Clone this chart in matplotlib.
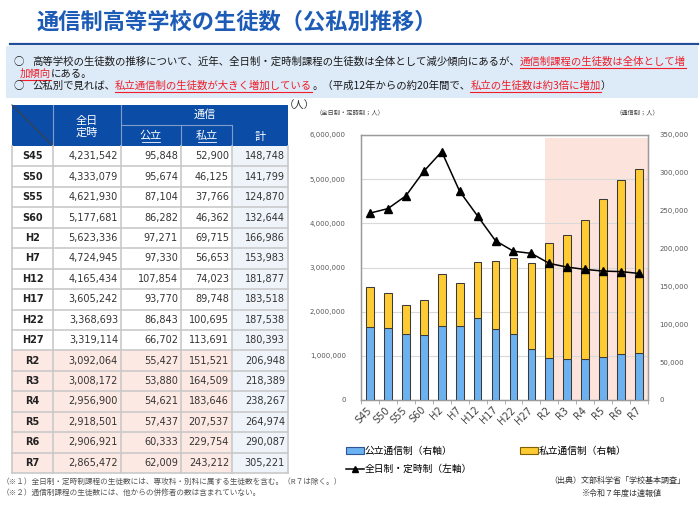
import numpy as np
import matplotlib
matplotlib.use("Agg")
import matplotlib.pyplot as plt
from matplotlib.patches import Rectangle, Patch
from matplotlib.lines import Line2D
from matplotlib.ticker import FuncFormatter

JP = ['Noto Sans CJK JP', 'DejaVu Sans']
NUM = ['DejaVu Sans', 'Noto Sans CJK JP']

years = ['S45', 'S50', 'S55', 'S60', 'H2', 'H7', 'H12', 'H17', 'H22', 'H27',
         'R2', 'R3', 'R4', 'R5', 'R6', 'R7']
fulltime = [4231542, 4333079, 4621930, 5177681, 5623336, 4724945, 4165434, 3605242,
            3368693, 3319114, 3092064, 3008172, 2956900, 2918501, 2906921, 2865472]
public = [95848, 95674, 87104, 86282, 97271, 97330, 107854, 93770,
          86843, 66702, 55427, 53880, 54621, 57437, 60333, 62009]
private = [52900, 46125, 37766, 46362, 69715, 56653, 74023, 89748,
           100695, 113691, 151521, 164509, 183646, 207537, 229754, 243212]
total = [148748, 141799, 124870, 132644, 166986, 153983, 181877, 183518,
         187538, 180393, 206948, 218389, 238267, 264974, 290087, 305221]
highlight_from = 'R2'

title = '通信制高等学校の生徒数（公私別推移）'
line1 = [('高等学校の生徒数の推移について、近年、全日制・定時制課程の生徒数は全体として減少傾向にあるが、', False),
         ('通信制課程の生徒数は全体として増', True)]
line2 = [('加傾向', True), ('にある。', False)]
line3 = [('公私別で見れば、', False), ('私立通信制の生徒数が大きく増加している', True),
         ('。（平成12年からの約20年間で、', False), ('私立の生徒数は約3倍に増加', True), ('）', False)]
notes = ['（※１）全日制・定時制課程の生徒数には、専攻科・別科に属する生徒数を含む。（R７は除く。）',
         '（※２）通信制課程の生徒数には、他からの併修者の数は含まれていない。']

HEAD_BLUE = '#0B4DA6'
RED = '#F01E28'
BLUE_BAR = '#6DB2F0'
YEL_BAR = '#FFCB33'

fig = plt.figure(figsize=(7, 5.05), dpi=100)
bg = fig.add_axes([0, 0, 1, 1])
bg.set_xlim(0, 700)
bg.set_ylim(505, 0)
bg.axis('off')
renderer = fig.canvas.get_renderer()

# title + box
bg.text(37, 22, title, fontsize=16, weight='bold', color='#1C5BB6', va='center', family=JP)
bg.plot([10, 698], [44, 44], color='#1F4E9A', lw=1.6)
bg.add_patch(Rectangle((6, 46), 692, 52, facecolor='#DDEAF8', edgecolor='none'))


def rich_line(x, y, segs, size=7.5):
    for txt, red in segs:
        t = bg.text(x, y, txt, fontsize=size, va='center', ha='left', family=JP,
                    color=RED if red else '#1A1A1A')
        w = t.get_window_extent(renderer).width
        if red:
            bg.plot([x, x + w], [y + 6, y + 6], color=RED, lw=0.8)
        x += w


bg.text(13, 62, '○', fontsize=7.5, va='center', family=JP, color='#1A1A1A')
bg.text(13, 86, '○', fontsize=7.5, va='center', family=JP, color='#1A1A1A')
rich_line(32, 62, line1)
rich_line(20, 74, line2)
rich_line(32, 86, line3)

# table
cols = [12, 53, 121, 181, 232, 288]
top, hmid, hbot = 105, 125, 146
rh = (473 - hbot) / len(years)
bg.add_patch(Rectangle((cols[0], top), cols[-1] - cols[0], hbot - top, facecolor=HEAD_BLUE, edgecolor='none'))
hl = '#7F9CCB'
for cx in cols[1:3]:
    bg.plot([cx, cx], [top, hbot], color=hl, lw=0.8)
for cx in cols[3:5]:
    bg.plot([cx, cx], [hmid, hbot], color=hl, lw=0.8)
bg.plot([cols[2], cols[4]], [hmid, hmid], color=hl, lw=0.8)
bg.plot([cols[0], cols[1]], [top, hbot], color='#404040', lw=0.8)
hkw = dict(color='white', fontsize=8, ha='center', va='center', family=JP)
bg.text((cols[1] + cols[2]) / 2, 121, '全日', **hkw)
bg.text((cols[1] + cols[2]) / 2, 133, '定時', **hkw)
bg.text((cols[2] + cols[5]) / 2, 115, '通信', **hkw)
for i, lab in [(2, '公立'), (3, '私立')]:
    cx = (cols[i] + cols[i + 1]) / 2
    bg.text(cx, 136, lab, **hkw)
    bg.plot([cx - 9, cx + 9], [142, 142], color='white', lw=0.6)
bg.text((cols[4] + cols[5]) / 2, 137, '計', **hkw)

hi = years.index(highlight_from)
for i, yr in enumerate(years):
    y0 = hbot + i * rh
    fill = '#FDE9E4' if i >= hi else 'white'
    bg.add_patch(Rectangle((cols[0], y0), cols[4] - cols[0], rh, facecolor=fill, edgecolor='none'))
    bg.add_patch(Rectangle((cols[4], y0), cols[5] - cols[4], rh, facecolor='#EEF4FA', edgecolor='none'))
    yc = y0 + rh / 2
    bg.text((cols[0] + cols[1]) / 2, yc, yr, fontsize=7, weight='bold', ha='center', va='center',
            family=NUM, color='#222222')
    for j, v in enumerate([fulltime[i], public[i], private[i], total[i]]):
        bg.text(cols[j + 2] - 3, yc, f'{v:,}', fontsize=7, ha='right', va='center',
                family=NUM, color='#333333')
gl = '#C9C9C9'
for i in range(1, len(years) + 1):
    yy = hbot + i * rh
    bg.plot([cols[0], cols[-1]], [yy, yy], color=gl, lw=1.2)
for cx in cols:
    bg.plot([cx, cx], [hbot, 473], color=gl, lw=1.2)

for k, n in enumerate(notes):
    bg.text(2, 482 + 11 * k, n, fontsize=5.5, va='center', family=JP, color='#555555')

# chart
ax = fig.add_axes([361 / 700, 105 / 505, 287 / 700, 265 / 505])
x = np.arange(len(years))
ax.set_xlim(-0.5, len(years) - 0.5)
ax.set_ylim(0, 6000000)
ax.axvspan(hi - 0.23, len(years) - 0.5, ymax=0.988, color='#FCE4DC', lw=0, zorder=0)
ax.set_yticks(np.arange(0, 6000001, 1000000))
ax.yaxis.grid(True, color='#D9D9D9', lw=0.8)
ax.set_axisbelow(True)
ax.yaxis.set_major_formatter(FuncFormatter(lambda v, p: f'{int(v):,}'))
ax.tick_params(axis='y', length=0, labelsize=5, labelcolor='#595959', pad=11)
ax.set_xticks(x)
ax.set_xticklabels(years, rotation=45, ha='right', va='center', rotation_mode='anchor',
                   fontsize=7, color='#404040', family=NUM)
ax.tick_params(axis='x', which='major', length=0, pad=6)
ax.set_xticks(np.arange(-0.5, len(years)), minor=True)
ax.tick_params(axis='x', which='minor', length=3, color='#A0A0A0')

axr = ax.twinx()
axr.set_ylim(0, 350000)
axr.bar(x, public, width=0.43, color=BLUE_BAR, edgecolor='#3A3A3A', lw=0.75, zorder=2)
axr.bar(x, private, width=0.43, bottom=public, color=YEL_BAR, edgecolor='#3A3A3A', lw=0.75, zorder=2)
axr.plot(x, fulltime, transform=ax.transData, color='black', lw=1.1, marker='^',
         markersize=6, zorder=4)
axr.set_ylim(0, 350000)
axr.set_yticks(np.arange(0, 350001, 50000))
axr.yaxis.set_major_formatter(FuncFormatter(lambda v, p: f'{int(v):,}'))
axr.tick_params(axis='y', length=0, labelsize=5, labelcolor='#595959', pad=8)
for a in (ax, axr):
    for s in a.spines.values():
        s.set_color('#9A9A9A')
        s.set_linewidth(0.9)

bg.text(284, 106, '（人）', fontsize=7.5, va='center', family=JP, color='#333333')
bg.text(316, 112, '（全日制・定時制；人）', fontsize=4.5, va='center', family=JP, color='#404040')
bg.text(616, 112, '（通信制；人）', fontsize=4.5, va='center', family=JP, color='#404040')

# legend
pb = Patch(facecolor=BLUE_BAR, edgecolor='#2F5597', lw=0.8)
py = Patch(facecolor=YEL_BAR, edgecolor='#7F6000', lw=0.8)
ln = Line2D([], [], color='black', lw=1.1, marker='^', markersize=4.5)
lkw = dict(loc='upper left', frameon=False, prop={'family': JP, 'size': 7}, handlelength=1.8,
           handleheight=0.7, handletextpad=0.15, labelspacing=0.85, borderaxespad=0, borderpad=0)
fig.legend(handles=[pb, ln], labels=['公立通信制（右軸）', '全日制・定時制（左軸）'],
           bbox_to_anchor=(346 / 700, 1 - 446 / 505), **lkw)
fig.legend(handles=[py], labels=['私立通信制（右軸）'],
           bbox_to_anchor=(520 / 700, 1 - 446 / 505), **lkw)

bg.text(685, 480, '（出典）文部科学省「学校基本調査」', fontsize=5.8, ha='right', va='center',
        family=JP, color='#333333')
bg.text(582, 493, '※令和７年度は速報値', fontsize=5.8, ha='left', va='center', family=JP, color='#333333')

fig.savefig('out.png', dpi=100)
